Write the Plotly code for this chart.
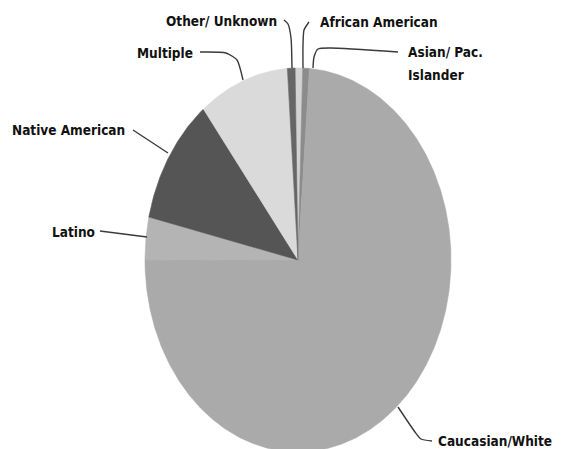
import numpy as np
import plotly.graph_objects as go

# Share of students by race / ethnicity (percent), listed clockwise from 12 o'clock
categories = ["African American", "Asian/ Pac. Islander", "Caucasian/White",
              "Latino", "Native American", "Multiple", "Other/ Unknown"]
shares = [0.8, 0.7, 73.8, 3.6, 10.8, 9.5, 0.8]
slice_colors = ["#d2d2d2", "#8c8c8c", "#aaaaaa", "#b4b4b4", "#555555", "#dadada", "#666666"]
start_angle = -1.1  # degrees clockwise from the top where the first slice begins

W, H = 561, 449
# pie centre and radii in pixels (the pie is drawn as an upright ellipse)
CX, CY, RX, RY = 298, 260, 153, 192


def dx(px):
    return (px - CX) / RX


def dy(py):
    return (CY - py) / RY


fig = go.Figure()

# slices: unit-circle wedges, stretched into an ellipse by the axis ranges
total = sum(shares)
angle = start_angle
for name, val, col in zip(categories, shares, slice_colors):
    sweep = 360.0 * val / total
    th = np.radians(np.linspace(angle, angle + sweep, max(int(sweep * 2), 4)))
    xs = np.concatenate([[0.0], np.sin(th), [0.0]])
    ys = np.concatenate([[0.0], np.cos(th), [0.0]])
    fig.add_trace(go.Scatter(
        x=xs, y=ys, mode="lines", fill="toself", fillcolor=col,
        line=dict(color=col, width=0.6), name=name, hoverinfo="name",
        showlegend=False,
    ))
    angle += sweep

# callout lines (pixel paths) from each label to its slice
callouts = [
    [(284, 20), (288, 24), (291, 38), (292, 68)],             # Other/ Unknown
    [(309, 22), (304, 30), (303, 45), (303, 68)],             # African American
    [(398, 52), (330, 48), (318, 49), (314, 57), (313, 68)],  # Asian/ Pac. Islander
    [(200, 52), (226, 53), (237, 60), (243, 80)],             # Multiple
    [(133, 130), (168, 153)],                                 # Native American
    [(100, 231), (147, 237)],                                 # Latino
    [(398, 407), (415, 432), (421, 439), (432, 441)],         # Caucasian/White
]
for path in callouts:
    fig.add_trace(go.Scatter(
        x=[dx(p[0]) for p in path], y=[dy(p[1]) for p in path],
        mode="lines", line=dict(color="#3a3a3a", width=1.4, shape="spline",
                                smoothing=0.6),
        hoverinfo="skip", showlegend=False,
    ))

# label text: (text, left x px, centre y px)
label_spots = [
    ("Other/ Unknown", 166, 21),
    ("African American", 320, 22),
    ("Asian/ Pac.", 408, 52),
    ("Islander", 408, 75),
    ("Multiple", 137, 53),
    ("Native American", 12, 130),
    ("Latino", 52, 232),
    ("Caucasian/White", 438, 441),
]
for text, px, py in label_spots:
    fig.add_annotation(
        x=px / W, y=1 - py / H, xref="paper", yref="paper",
        text=text, showarrow=False, xanchor="left", yanchor="middle",
        xshift=-2,  # cancel the annotation's default inner padding
        font=dict(family="DejaVu Sans Condensed, DejaVu Sans, sans-serif",
                  size=13.5, color="#111111", weight="bold"),
    )

fig.update_xaxes(range=[dx(0), dx(W)], visible=False, fixedrange=True)
fig.update_yaxes(range=[dy(H), dy(0)], visible=False, fixedrange=True)
fig.update_layout(
    width=W, height=H, margin=dict(l=0, r=0, t=0, b=0),
    paper_bgcolor="white", plot_bgcolor="white",
)

fig.write_html("out.html")
